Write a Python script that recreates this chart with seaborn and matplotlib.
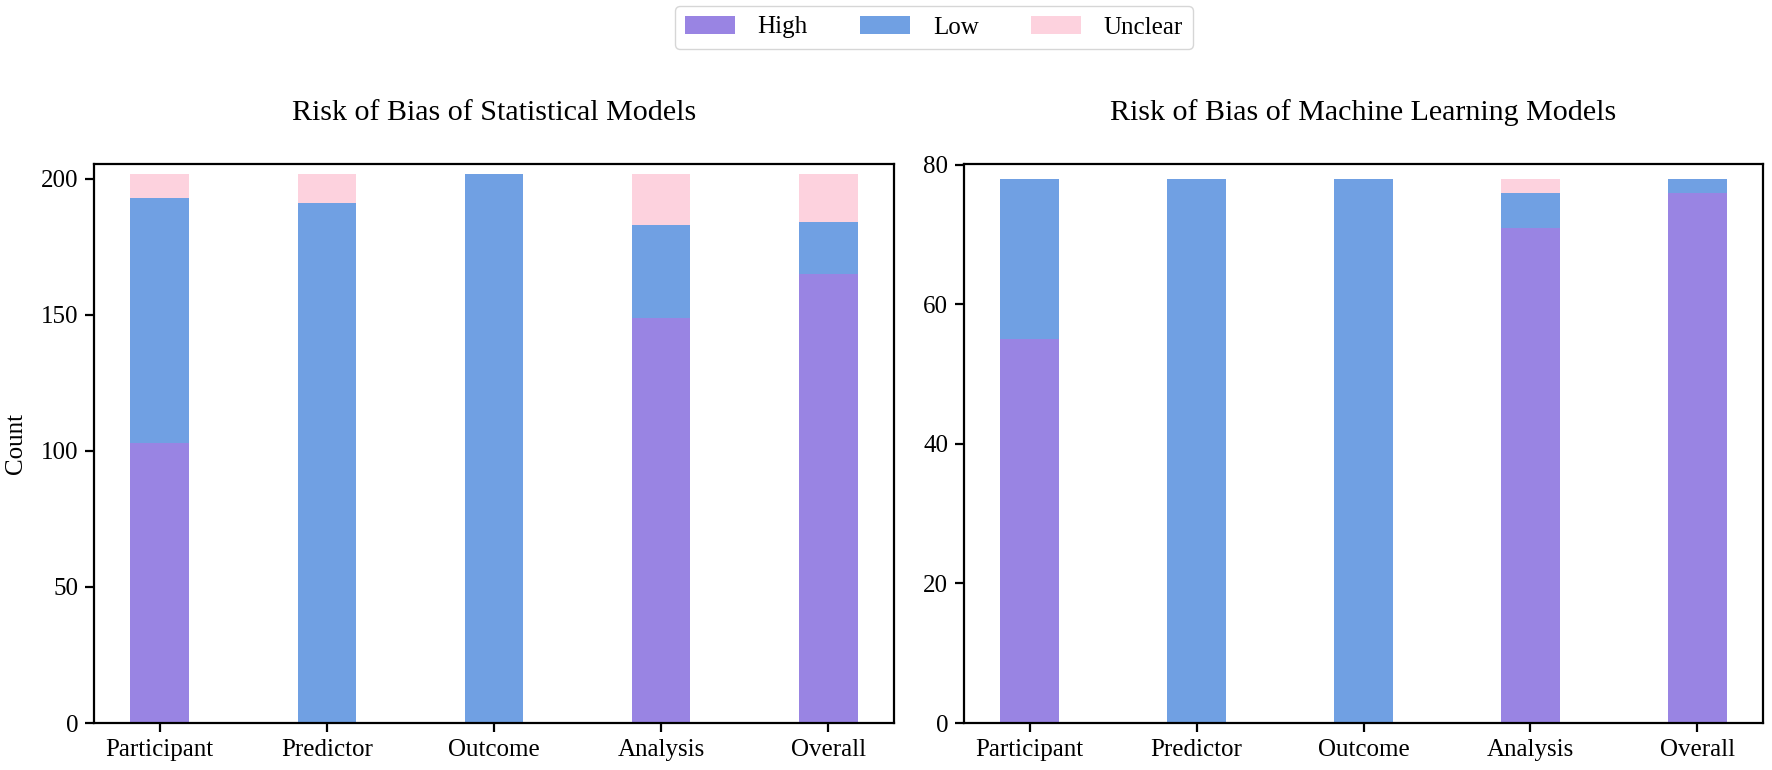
import numpy as np
import pandas as pd
import matplotlib
matplotlib.use("Agg")
import matplotlib.pyplot as plt
import seaborn as sns
from matplotlib.patches import Patch

# ---------------- data ----------------
categories = ["Participant", "Predictor", "Outcome", "Analysis", "Overall"]
series = ["High", "Low", "Unclear"]

stat_high = [103, 0, 0, 149, 165]
stat_low = [90, 191, 202, 34, 19]
stat_unclear = [9, 11, 0, 19, 18]

ml_high = [55, 0, 0, 71, 76]
ml_low = [23, 78, 78, 5, 2]
ml_unclear = [0, 0, 0, 2, 0]

stat_yticks = [0, 50, 100, 150, 200]
ml_yticks = [0, 20, 40, 60, 80]

titles = ["Risk of Bias of Statistical Models", "Risk of Bias of Machine Learning Models"]
colors = {"High": "#9984E3", "Low": "#70A0E3", "Unclear": "#FDD2DE"}

# ---------------- style ----------------
sns.set_theme(style="ticks")
plt.rcParams["font.family"] = ["Liberation Serif", "DejaVu Serif"]
plt.rcParams.update({
    "font.size": 18,
    "axes.titlesize": 21.6,
    "axes.labelsize": 18,
    "xtick.labelsize": 18,
    "ytick.labelsize": 18,
    "legend.fontsize": 18,
    "axes.edgecolor": "black",
    "axes.linewidth": 1.6,
    "xtick.color": "black",
    "ytick.color": "black",
    "text.color": "black",
    "axes.labelcolor": "black",
})

W, H = 1772, 770
fig = plt.figure(figsize=(W / 100, H / 100), dpi=100)
ax_l = fig.add_axes([94 / W, (H - 723) / H, 800 / W, (723 - 164) / H])
ax_r = fig.add_axes([964 / W, (H - 723) / H, 799 / W, (723 - 164) / H])


def stacked(ax, high, low, unclear):
    high = np.array(high)
    low = np.array(low)
    unclear = np.array(unclear)
    layers = [
        ("Unclear", high + low + unclear),
        ("Low", high + low),
        ("High", high),
    ]
    for name, vals in layers:
        df = pd.DataFrame({"cat": categories, "val": vals})
        sns.barplot(data=df, x="cat", y="val", color=colors[name], width=0.35,
                    saturation=1, linewidth=0, ax=ax, order=categories)


stacked(ax_l, stat_high, stat_low, stat_unclear)
stacked(ax_r, ml_high, ml_low, ml_unclear)

for ax, title, yt, top in [(ax_l, titles[0], stat_yticks, 205.5), (ax_r, titles[1], ml_yticks, 80.1)]:
    ax.set_xlim(-0.3925, 4.3925)
    ax.set_ylim(0, top)
    ax.set_yticks(yt)
    ax.set_xlabel("")
    ax.set_ylabel("")
    ax.set_title(title, pad=32)
    ax.tick_params(axis="both", length=6.5, width=1.6, pad=5)
    for s in ax.spines.values():
        s.set_visible(True)
        s.set_linewidth(1.6)
        s.set_color("black")

ax_l.set_ylabel("Count", labelpad=10)

handles = [Patch(facecolor=colors[s], edgecolor="none", label=s) for s in series]
fig.legend(handles=handles, loc="upper center", bbox_to_anchor=(934 / W, 1 - 6 / H),
           ncol=3, borderaxespad=0, handletextpad=0.9, columnspacing=2.1,
           frameon=True, edgecolor="0.8", fancybox=True)

fig.savefig("out.png", dpi=100)
